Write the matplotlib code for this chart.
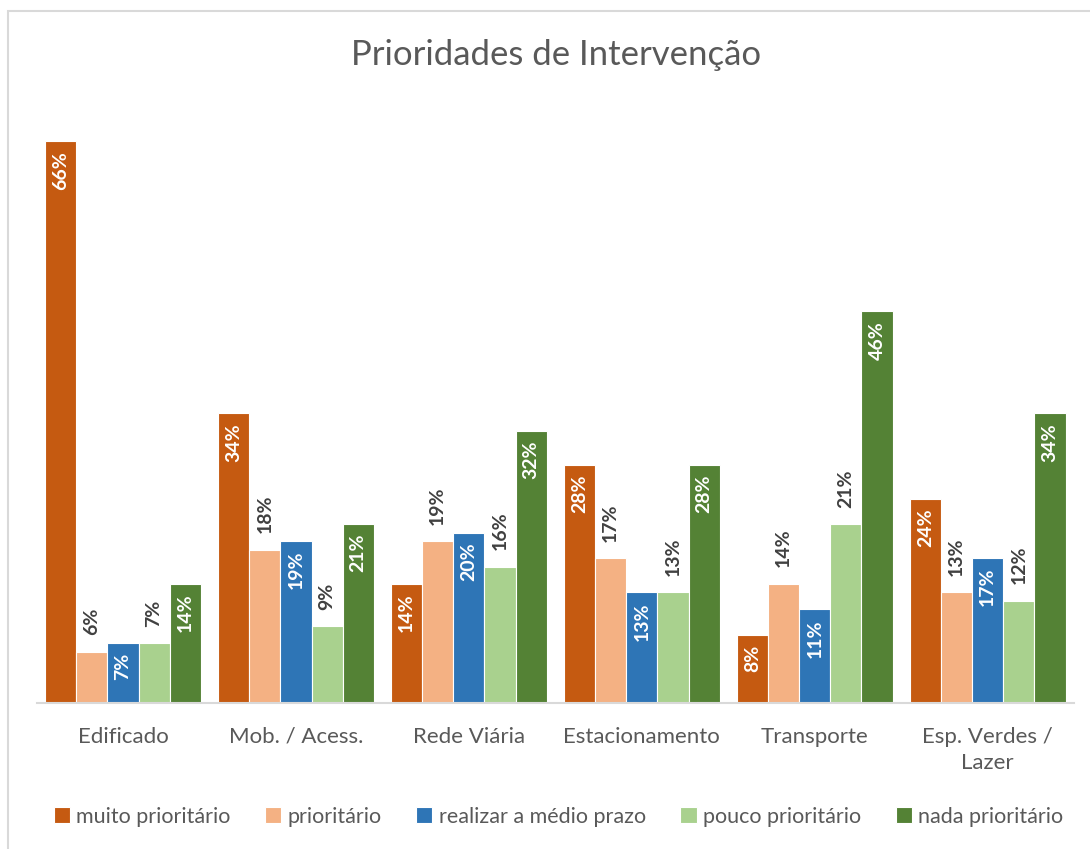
import numpy as np
import matplotlib
matplotlib.use('Agg')
import matplotlib.pyplot as plt
from matplotlib.patches import Rectangle

# ============================================================
# 数据
# ============================================================
categories = ['Edificado', 'Mob. / Acess.', 'Rede Viária', 'Estacionamento',
              'Transporte', 'Esp. Verdes /\nLazer']
series_names = ['muito prioritário', 'prioritário', 'realizar a médio prazo',
                'pouco prioritário', 'nada prioritário']
muito = [66, 34, 14, 28, 8, 24]
prioritario = [6, 18, 19, 17, 14, 13]
medio_prazo = [7, 19, 20, 13, 11, 17]
pouco = [7, 9, 16, 13, 21, 12]
nada = [14, 21, 32, 28, 46, 34]

colors = ['#C55A11', '#F4B183', '#2E75B6', '#A9D18E', '#548235']
# 标签放在柱内(白色)还是柱外(深灰)
inside = [True, False, True, False, True]

FONT = ['Lato', 'DejaVu Sans']
plt.rcParams['font.family'] = FONT

fig = plt.figure(figsize=(10.9, 8.49), dpi=100)
ax = fig.add_axes([0.0335, 0.172, 0.952, 0.702])

# 外框
fig.patches.append(Rectangle((8 / 1090, -0.01), 1.1, 1 - 10.5 / 849 + 0.01,
                             transform=fig.transFigure, fill=False,
                             edgecolor='#D9D9D9', linewidth=1.5))

all_series = [muito, prioritario, medio_prazo, pouco, nada]
x = np.arange(len(categories))
bw = 0.9 / 5
for i, vals in enumerate(all_series):
    xs = x - 0.45 + bw * (i + 0.5)
    bars = ax.bar(xs, vals, width=bw, color=colors[i], edgecolor='white',
                  linewidth=0.8, label=series_names[i], zorder=2)
    for b, v in zip(bars, vals):
        cx = b.get_x() + b.get_width() / 2
        if inside[i]:
            ax.annotate(f'{v}%', (cx, v), xytext=(0, -7), textcoords='offset points',
                        rotation=90, ha='center', va='top', color='white',
                        fontsize=14, fontweight='bold')
        else:
            ax.annotate(f'{v}%', (cx, v), xytext=(0, 12), textcoords='offset points',
                        rotation=90, ha='center', va='bottom', color='#404040',
                        fontsize=14, fontweight='bold')

ax.set_xlim(-0.5, len(categories) - 0.5)
ax.set_ylim(0, 70)
ax.set_yticks([])
ax.set_xticks(x)
ax.set_xticklabels(categories, fontsize=16, color='#595959', linespacing=1.4)
ax.tick_params(axis='x', length=0, pad=17)
for s in ['top', 'right', 'left']:
    ax.spines[s].set_visible(False)
ax.spines['bottom'].set_color('#D9D9D9')
ax.spines['bottom'].set_linewidth(1.5)

fig.text(0.51, 0.935, 'Prioridades de Intervenção', ha='center', va='center',
         fontsize=25, color='#595959')

leg = fig.legend(loc='center', bbox_to_anchor=(0.5124, 0.038), ncol=5, frameon=False,
                 fontsize=15.5, handlelength=0.75, handleheight=0.75,
                 handletextpad=0.3, columnspacing=1.6, labelcolor='#595959')

fig.savefig('out.png', dpi=100, facecolor='white')
